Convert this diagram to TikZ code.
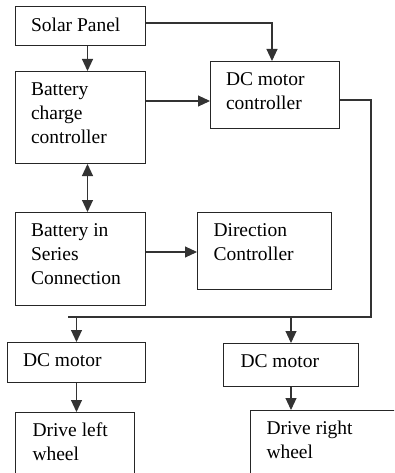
\documentclass[tikz,border=0pt]{standalone}
\usepackage{fontspec}
\setmainfont{Liberation Serif}
\newfontfamily\tnrfont{Liberation Serif}
\usetikzlibrary{arrows.meta}
\tikzset{
  box/.style={draw=black!85, line width=1pt, rectangle, anchor=north west,
    inner xsep=15.5pt, inner ysep=11pt, font=\tnrfont\fontsize{19.5}{24}\selectfont},
  conn/.style={draw=black!80, line width=1.1pt},
  arr/.style={conn, -{Triangle[length=12pt,width=11pt]}},
  darr/.style={conn, {Triangle[length=12pt,width=11pt]}-{Triangle[length=12pt,width=11pt]}}
}
\newcommand{\bt}[3]{\parbox[t][#2pt][t]{#1pt}{\raggedright #3}}
\begin{document}
\begin{tikzpicture}[x=1pt,y=-1pt]
\path[use as bounding box, clip] (0,0) rectangle (394,473);
\fill[white] (0,0) rectangle (394,473);
\node[box] (solar) at (15,6) {\bt{99}{17}{Solar Panel}};
\node[box] (bcc) at (15,71) {\bt{99}{70}{Battery\\charge\\controller}};
\node[box] (dcmc) at (210,61) {\bt{98}{45}{DC motor\\controller}};
\node[box] (bis) at (15,212) {\bt{99}{71}{Battery in\\Series\\Connection}};
\node[box, inner xsep=16pt] (dir) at (197,212) {\bt{102}{55}{Direction\\Controller}};
\node[box] (dcl) at (7,342) {\bt{107}{18}{DC motor}};
\node[box, inner xsep=17pt] (dcr) at (223,343) {\bt{101}{21}{DC motor}};
\node[box, inner xsep=17pt, inner ysep=10pt] (dlw) at (15,412) {\bt{85}{60}{Drive left\\wheel}};
\node[box, inner xsep=16pt, inner ysep=10pt] (drw) at (250,410) {\bt{128}{60}{Drive right\\wheel}};
% connectors
\draw[arr] ([xshift=7pt]solar.south) -- ([xshift=7pt]bcc.north);
\draw[arr] (solar.east |- 0,23) -| ([xshift=-3pt]dcmc.north);
\draw[arr] (bcc.east |- 0,101) -- (dcmc.west |- 0,101);
\draw[darr] ([xshift=7pt]bcc.south) -- ([xshift=7pt]bis.north);
\draw[arr] (bis.east |- 0,252) -- (dir.west |- 0,252);
\coordinate (busR) at (371,317);
\coordinate (busL) at (68,317);
\draw[conn] (dcmc.east |- 0,100) -| (busR) -- (busL);
\draw[arr] (dcl.north |- busL) -- (dcl.north);
\draw[arr] (dcr.north |- busR) -- (dcr.north);
\draw[arr] (dcl.south) -- (dcl.south |- dlw.north);
\draw[arr] (dcr.south) -- (dcr.south |- drw.north);
\end{tikzpicture}
\end{document}
